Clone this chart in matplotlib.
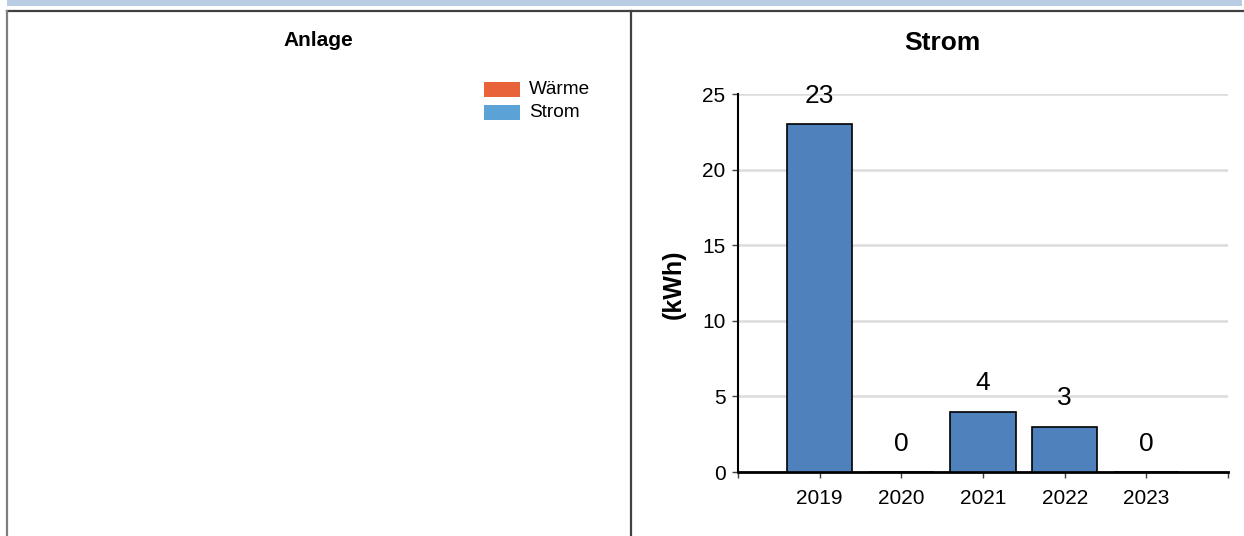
import matplotlib
matplotlib.use("Agg")
import matplotlib.pyplot as plt
from matplotlib.patches import Rectangle
from matplotlib.lines import Line2D

plt.rcParams['font.family'] = ['Liberation Sans', 'DejaVu Sans']

# Data
years = ["2019", "2020", "2021", "2022", "2023"]
strom_kwh = [23, 0, 4, 3, 0]
legend_labels = ["Wärme", "Strom"]
legend_colors = ["#E8633A", "#5BA3D6"]
bar_color = "#4F81BD"

W, H = 1244, 536
fig = plt.figure(figsize=(W / 100, H / 100), dpi=100)
fig.patch.set_facecolor("white")


def fx(px):
    return px / W


def fy(py):
    return 1 - py / H


# Header band and panel frames
fig.add_artist(Rectangle((fx(7), fy(6)), fx(1242) - fx(7), fy(0) - fy(6),
                         transform=fig.transFigure, color="#B8CCE4", lw=0))
fig.add_artist(Line2D([fx(7), fx(1244)], [fy(11), fy(11)], transform=fig.transFigure,
                      color="#404040", lw=1.6))
fig.add_artist(Line2D([fx(7.5), fx(7.5)], [fy(11), fy(536)], transform=fig.transFigure,
                      color="#7F7F7F", lw=1.6))
fig.add_artist(Line2D([fx(630.5), fx(630.5)], [fy(11), fy(536)], transform=fig.transFigure,
                      color="#404040", lw=1.6))

# Left panel: title and legend
fig.text(fx(318), fy(40), "Anlage", ha="center", va="center", fontsize=15, fontweight="bold")
for i, (lab, col) in enumerate(zip(legend_labels, legend_colors)):
    top = 82 + i * 23
    fig.add_artist(Rectangle((fx(484), fy(top + 15)), fx(520) - fx(484), fy(top) - fy(top + 15),
                             transform=fig.transFigure, color=col, lw=0))
    fig.text(fx(529), fy(top + 7.5), lab, ha="left", va="center", fontsize=13.7)

# Right panel: bar chart
ax = fig.add_axes([fx(738), fy(472), fx(1228) - fx(738), fy(94) - fy(472)])
x = list(range(len(years)))
ax.bar(x, strom_kwh, width=0.8, color=bar_color, edgecolor="black", linewidth=1.2, zorder=3)
for xi, v in zip(x, strom_kwh):
    ax.annotate(str(v), (xi, v), xytext=(0, 20.5), textcoords="offset points",
                ha="center", va="center", fontsize=19, zorder=4)

ax.set_xlim(-1, len(years))
ax.set_ylim(0, 25)
ax.set_xticks(list(range(-1, len(years) + 1)))
ax.set_xticklabels([""] + years + [""])
ax.set_yticks([0, 5, 10, 15, 20, 25])
ax.yaxis.grid(True, color="#DCDCDC", lw=1.8, zorder=0)
ax.set_axisbelow(True)
for s in ["top", "right"]:
    ax.spines[s].set_visible(False)
ax.spines["left"].set_linewidth(1.5)
ax.spines["bottom"].set_linewidth(2)
ax.tick_params(axis="x", length=4, width=1, color="#404040", pad=8, labelsize=15)
ax.tick_params(axis="y", length=4, width=1, color="#404040", pad=5, labelsize=15)

fig.text(fx(942), fy(43), "Strom", ha="center", va="center", fontsize=19, fontweight="bold")
fig.text(fx(674), fy(284), "(kWh)", ha="center", va="center", rotation=90,
         fontsize=18, fontweight="bold")

fig.savefig("out.png", dpi=100, facecolor="white")
